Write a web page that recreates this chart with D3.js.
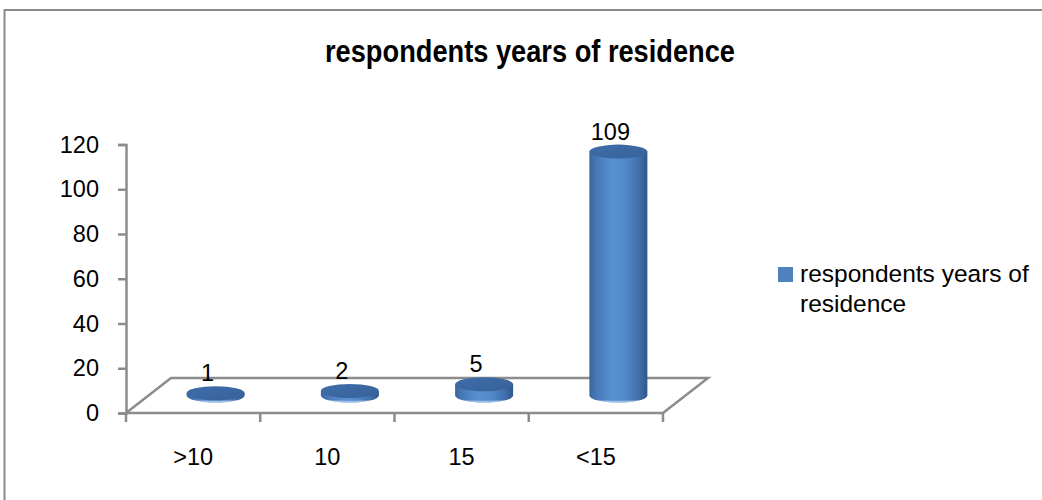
<!DOCTYPE html>
<html>
<head>
<meta charset="utf-8">
<script src="https://cdn.jsdelivr.net/npm/d3@7"></script>
<style>
  html, body { margin: 0; padding: 0; background: #fff; }
  svg { display: block; }
  text { font-family: "Liberation Sans", Arial, sans-serif; fill: #000; }
</style>
</head>
<body>
<svg id="chart" width="1042" height="500"></svg>
<script>
// Chart data
const title = "respondents years of residence";
const seriesName = "respondents years of residence";
const categories = [">10", "10", "15", "<15"];
const values = [1, 2, 5, 109];
const yTicks = [0, 20, 40, 60, 80, 100, 120];
const legendLines = ["respondents years of", "residence"];

const svg = d3.select("#chart");
const W = 1042, H = 500;

// Plot frame (front plane of the 3-D box) and depth offset of the floor
const plot = { left: 126, right: 663, bottom: 413, top: 144.5 };
const depth = { dx: 45, dy: -35 };
const axisColor = "#8c8c8c";
const barColor = "#4f81bd";

const x = d3.scaleBand().domain(categories).range([plot.left, plot.right]).padding(0);
const y = d3.scaleLinear().domain([0, 120]).range([plot.bottom, plot.top]);

// Gradients for the cylinder body and cap
const defs = svg.append("defs");
const body = defs.append("linearGradient").attr("id", "cylBody")
  .attr("x1", "0%").attr("x2", "100%").attr("y1", "0%").attr("y2", "0%");
[["0%", "#3b669f"], ["12%", "#4778b6"], ["40%", "#5890d2"], ["62%", "#5289cb"], ["85%", "#4170ac"], ["100%", "#30578b"]]
  .forEach(([o, c]) => body.append("stop").attr("offset", o).attr("stop-color", c));
const cap = defs.append("linearGradient").attr("id", "cylCap")
  .attr("x1", "0%").attr("x2", "100%").attr("y1", "0%").attr("y2", "100%");
[["0%", "#3f6da8"], ["100%", "#37629a"]]
  .forEach(([o, c]) => cap.append("stop").attr("offset", o).attr("stop-color", c));
const rim = defs.append("linearGradient").attr("id", "cylRim")
  .attr("x1", "0%").attr("x2", "0%").attr("y1", "0%").attr("y2", "100%");
[["0%", "rgba(255,255,255,0)"], ["70%", "rgba(255,255,255,0)"], ["100%", "rgba(190,215,245,0.9)"]]
  .forEach(([o, c]) => rim.append("stop").attr("offset", o).attr("stop-color", c));

// Outer chart border
svg.append("rect")
  .attr("x", 4.5).attr("y", 10).attr("width", W + 20).attr("height", H + 20)
  .attr("fill", "#fff").attr("stroke", "#8a8a8a").attr("stroke-width", 2);

// Title
svg.append("text")
  .attr("x", 530).attr("y", 62)
  .attr("text-anchor", "middle")
  .attr("font-size", 31).attr("font-weight", "bold")
  .attr("textLength", 410).attr("lengthAdjust", "spacingAndGlyphs")
  .style("font-family", "'Liberation Sans Narrow', 'Liberation Sans', Arial, sans-serif")
  .text(title);

// Floor of the 3-D box
const floor = [
  [plot.left, plot.bottom],
  [plot.right, plot.bottom],
  [plot.right + depth.dx, plot.bottom + depth.dy],
  [plot.left + depth.dx, plot.bottom + depth.dy]
];
svg.append("path")
  .attr("d", d3.line()(floor) + "Z")
  .attr("fill", "#fff").attr("stroke", axisColor).attr("stroke-width", 2.5)
  .attr("stroke-linejoin", "miter");

// Value axis
const yAxis = svg.append("g")
  .attr("transform", `translate(${plot.left},0)`)
  .call(d3.axisLeft(y).tickValues(yTicks).tickSize(8).tickPadding(19).tickFormat(d3.format("d")));
yAxis.select(".domain").attr("stroke", axisColor).attr("stroke-width", 2.5);
yAxis.selectAll(".tick line").attr("stroke", axisColor).attr("stroke-width", 2.5);
yAxis.selectAll(".tick text")
  .attr("font-size", 23.5).attr("fill", "#000")
  .style("font-family", "'Liberation Sans', Arial, sans-serif");

// Category axis: ticks on band boundaries, labels centred in each band
const edges = categories.map(c => x(c)).concat([x.range()[1]]);
svg.append("g").selectAll("line").data(edges).join("line")
  .attr("x1", d => d).attr("x2", d => d)
  .attr("y1", plot.bottom).attr("y2", plot.bottom + 9)
  .attr("stroke", axisColor).attr("stroke-width", 2.5);
svg.append("g").selectAll("text").data(categories).join("text")
  .attr("x", d => x(d) + x.bandwidth() / 2)
  .attr("y", 465)
  .attr("text-anchor", "middle")
  .attr("font-size", 23.5)
  .text(d => d);

// Cylinders, placed at mid-depth of the box
const rx = 29, ry = 7;
const cx = c => x(c) + x.bandwidth() / 2 + depth.dx / 2;
const cyAt = v => y(v) + depth.dy / 2;

const bars = svg.append("g").selectAll("g")
  .data(categories.map((c, i) => ({ c, v: values[i] })))
  .join("g");

bars.append("path")
  .attr("d", d => {
    const xc = cx(d.c), top = cyAt(d.v), bot = cyAt(0);
    return `M${xc - rx},${top} L${xc - rx},${bot} A${rx},${ry} 0 0 0 ${xc + rx},${bot} L${xc + rx},${top} Z`;
  })
  .attr("fill", "url(#cylBody)");

bars.append("path")
  .attr("d", d => {
    const xc = cx(d.c), bot = cyAt(0);
    return `M${xc - rx},${bot - 2} L${xc - rx},${bot} A${rx},${ry} 0 0 0 ${xc + rx},${bot} L${xc + rx},${bot - 2} A${rx},${ry} 0 0 1 ${xc - rx},${bot - 2} Z`;
  })
  .attr("fill", "url(#cylRim)");

bars.append("ellipse")
  .attr("cx", d => cx(d.c))
  .attr("cy", d => cyAt(d.v))
  .attr("rx", rx).attr("ry", ry)
  .attr("fill", "url(#cylCap)");

// Value labels
bars.append("text")
  .attr("x", d => cx(d.c) - 8)
  .attr("y", d => cyAt(d.v) - ry - 5)
  .attr("text-anchor", "middle")
  .attr("font-size", 23.5)
  .text(d => d.v);

// Legend
const legend = svg.append("g").attr("transform", "translate(778,267)");
legend.append("rect").attr("width", 15).attr("height", 15).attr("fill", barColor);
legend.append("text").attr("x", 22).attr("y", 15).attr("font-size", 24.5)
  .selectAll("tspan").data(legendLines).join("tspan")
  .attr("x", 22).attr("dy", (d, i) => i === 0 ? 0 : 30)
  .text(d => d);
</script>
</body>
</html>
